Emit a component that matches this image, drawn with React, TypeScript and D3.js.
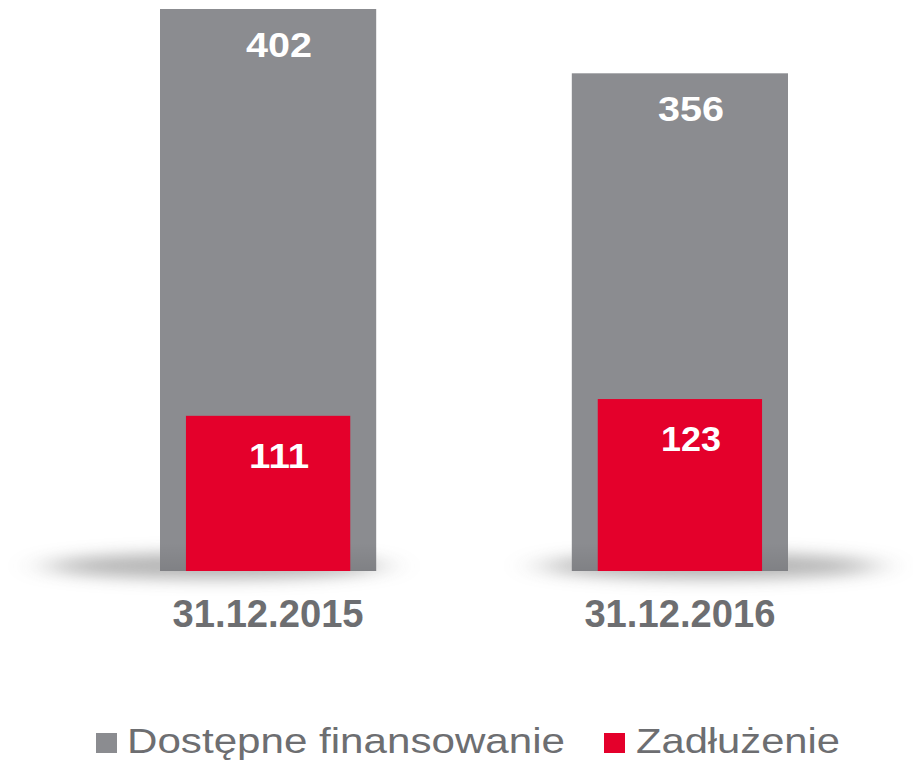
import React from "react";
import * as d3 from "d3";

const categories = ["31.12.2015", "31.12.2016"];
const availableFinancing = [402, 356];
const debt = [111, 123];
const legendLabels = ["Dostępne finansowanie", "Zadłużenie"];

const W = 913;
const H = 765;
const GRAY = "#8b8c90";
const RED = "#e4002b";
const TEXT = "#6d6e71";
const FONT = "'Liberation Sans', Arial, Helvetica, sans-serif";

export default function App() {
  const x = d3.scaleBand<string>().domain(categories).range([160, 788]).paddingInner(0.475).paddingOuter(0);
  const y = d3.scaleLinear().domain([0, 402]).range([571, 9]);
  const bw = x.bandwidth();
  const redW = bw * 0.76;
  const shadowOffsets = [-54, 30];

  return (
    <svg width={W} height={H} style={{ position: "absolute", left: 0, top: 0 }} fontFamily={FONT}>
      <defs>
        <filter id="shadowBlur" x="-50%" y="-300%" width="200%" height="700%">
          <feGaussianBlur stdDeviation="20 8" />
        </filter>
        <linearGradient id="barShade" x1="0" y1="0" x2="0" y2="1">
          <stop offset="0" stopColor="#000" stopOpacity={0} />
          <stop offset="1" stopColor="#000" stopOpacity={0.08} />
        </linearGradient>
      </defs>
      <rect width={W} height={H} fill="#fff" />
      {categories.map((c, i) => {
        const cx = (x(c) as number) + bw / 2 + shadowOffsets[i];
        return (
          <ellipse key={"sh" + c} cx={cx} cy={566} rx={168} ry={13} fill="#6a6a6a" opacity={0.5} filter="url(#shadowBlur)" />
        );
      })}
      {categories.map((c, i) => {
        const x0 = x(c) as number;
        const cx = x0 + bw / 2;
        const gTop = y(availableFinancing[i]);
        const rTop = y(debt[i]);
        return (
          <g key={c}>
            <rect x={x0} y={gTop} width={bw} height={y(0) - gTop} fill={GRAY} />
            <rect x={x0} y={y(0) - 28} width={bw} height={28} fill="url(#barShade)" />
            <rect x={cx - redW / 2} y={rTop} width={redW} height={y(0) - rTop} fill={RED} />
            <text x={cx + 11} y={gTop + 48} textAnchor="middle" fill="#fff" fontWeight="bold" fontSize={35} textLength={66} lengthAdjust="spacingAndGlyphs">
              {availableFinancing[i]}
            </text>
            <text x={cx + 11} y={rTop + 52} textAnchor="middle" fill="#fff" fontWeight="bold" fontSize={35} textLength={60} lengthAdjust="spacingAndGlyphs">
              {debt[i]}
            </text>
            <text x={cx} y={627} textAnchor="middle" fill={TEXT} fontWeight="bold" fontSize={39} textLength={191} lengthAdjust="spacingAndGlyphs">
              {c}
            </text>
          </g>
        );
      })}
      <g>
        <rect x={96} y={733} width={21} height={20} fill={GRAY} />
        <text x={127} y={753} fill={TEXT} fontSize={35} textLength={438} lengthAdjust="spacingAndGlyphs">
          {legendLabels[0]}
        </text>
        <rect x={604} y={733} width={21} height={20} fill={RED} />
        <text x={636} y={753} fill={TEXT} fontSize={35} textLength={204} lengthAdjust="spacingAndGlyphs">
          {legendLabels[1]}
        </text>
      </g>
    </svg>
  );
}
